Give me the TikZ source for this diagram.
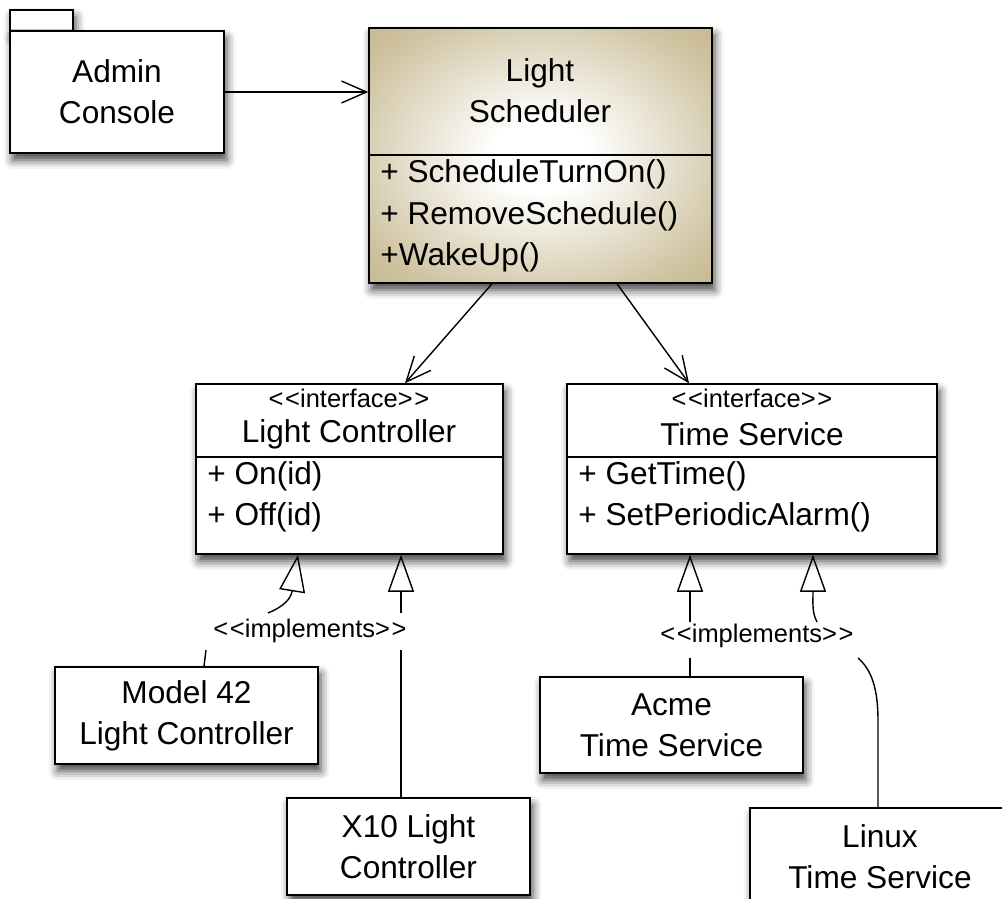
\documentclass[tikz,border=0pt]{standalone}
\usepackage{fontspec}
\setmainfont{Liberation Sans}
\usetikzlibrary{arrows.meta, positioning, shadows.blur}
\definecolor{schedtan}{RGB}{187,170,122}
\pgfdeclareradialshading{schedglow}{\pgfpoint{0bp}{0bp}}{%
    color(0bp)=(white); color(7bp)=(white);
    color(30bp)=(schedtan!72!white); color(46bp)=(schedtan); color(72bp)=(schedtan)}
\newcommand{\stereo}[1]{<\kern1pt<#1>\kern1pt>}

\begin{document}
\begin{tikzpicture}[
    x=0.02cm, y=-0.02cm,
    box/.style={rectangle, draw, fill=white, line width=0.9pt, inner sep=0pt, align=center,
        font=\fontsize{18}{23.5}\selectfont,
        blur shadow={shadow xshift=1.5pt, shadow yshift=-4pt, shadow blur radius=5pt, shadow opacity=75}},
    txt/.style={inner sep=0pt, align=center, font=\fontsize{18}{23.5}\selectfont},
    ops/.style={txt, align=left, anchor=west},
    small/.style={inner sep=1pt, font=\fontsize{14.5}{16}\selectfont},
    link/.style={line width=0.8pt},
    uses/.style={link, -{Straight Barb[length=5mm, width=4.4mm]}},
    realize/.style={link, -{Triangle[open, length=7.4mm, width=5.2mm]}}
]
\useasboundingbox (0,0) rectangle (1002,899);

% package
\node[box, minimum width=1.26cm, minimum height=0.42cm] (admintab) at (41.5,20.5) {};
\node[box, minimum width=4.28cm, minimum height=2.44cm] (admin) at (117,92) {Admin\\Console};

% scheduler class
\node[box, shading=schedglow, minimum width=6.86cm, minimum height=5.10cm] (sched) at (540.5,155.5) {};
\node[txt] (schedname) at (540,91) {Light\\Scheduler};
\draw[link] (sched.west |- 0,155) -- (sched.east |- 0,155);
\node[ops] (schedops) at (380,216) {+ ScheduleTurnOn()\\+ RemoveSchedule()\\+WakeUp()};

% interfaces
\node[box, minimum width=6.14cm, minimum height=3.40cm] (lc) at (349.5,469) {};
\node[small] (lcstereo) at (349,398) {\stereo{interface}};
\node[txt] (lcname) at (349,434) {Light Controller};
\draw[link] (lc.west |- 0,457) -- (lc.east |- 0,457);
\node[ops] (lcops) at (207,497) {+ On(id)\\+ Off(id)};

\node[box, minimum width=7.40cm, minimum height=3.40cm] (ts) at (752,469) {};
\node[small] (tsstereo) at (752,398) {\stereo{interface}};
\node[txt] (tsname) at (752,434) {Time Service};
\draw[link] (ts.west |- 0,457) -- (ts.east |- 0,457);
\node[ops] (tsops) at (578,497) {+ GetTime()\\+ SetPeriodicAlarm()};

% implementations
\node[box, minimum width=5.26cm, minimum height=1.94cm] (m42) at (186.5,715.5) {Model 42\\Light Controller};
\node[box, minimum width=4.86cm, minimum height=1.94cm] (x10) at (408.5,846.5) {X10 Light\\Controller};
\node[box, minimum width=5.26cm, minimum height=1.92cm] (acme) at (671.5,725) {Acme\\Time Service};
\node[box, minimum width=5.20cm, minimum height=1.94cm] (linux) at (880,856.5) {Linux\\Time Service};

\node[small] (impl1) at (310,631) {\stereo{implements}};
\node[small] (impl2) at (757,636) {\stereo{implements}};

% associations
\draw[uses] (admin.east) -- (sched.west |- admin.east);
\draw[uses] (sched.south -| 492,0) -- (lc.north -| 405,0);
\draw[uses] (sched.south -| 617,0) -- (ts.north -| 689,0);

% realizations
\coordinate (m42up) at (206,650);
\coordinate (m42top) at (268,613);
\draw[link] (m42.north -| 204,0) -- (m42up);
\draw[realize] (m42top) .. controls (285,606) and (291,598) .. (lc.south -| 298,0);

\coordinate (x10up) at (401,650);
\coordinate (x10top) at (401,613);
\draw[link] (x10.north -| x10up) -- (x10up);
\draw[realize] (x10top) -- (lc.south -| x10top);

\coordinate (acmeup) at (690,658);
\coordinate (acmetop) at (690,622);
\draw[link] (acme.north -| acmeup) -- (acmeup);
\draw[realize] (acmetop) -- (ts.south -| acmetop);

\coordinate (linuxup) at (858,658);
\coordinate (linuxtop) at (817,622);
\draw[link] (linux.north -| 878,0) -- (878,720) .. controls (878,690) and (872,670) .. (linuxup);
\draw[realize] (linuxtop) .. controls (812,612) and (813,605) .. (ts.south -| 813,0);
\end{tikzpicture}
\end{document}
